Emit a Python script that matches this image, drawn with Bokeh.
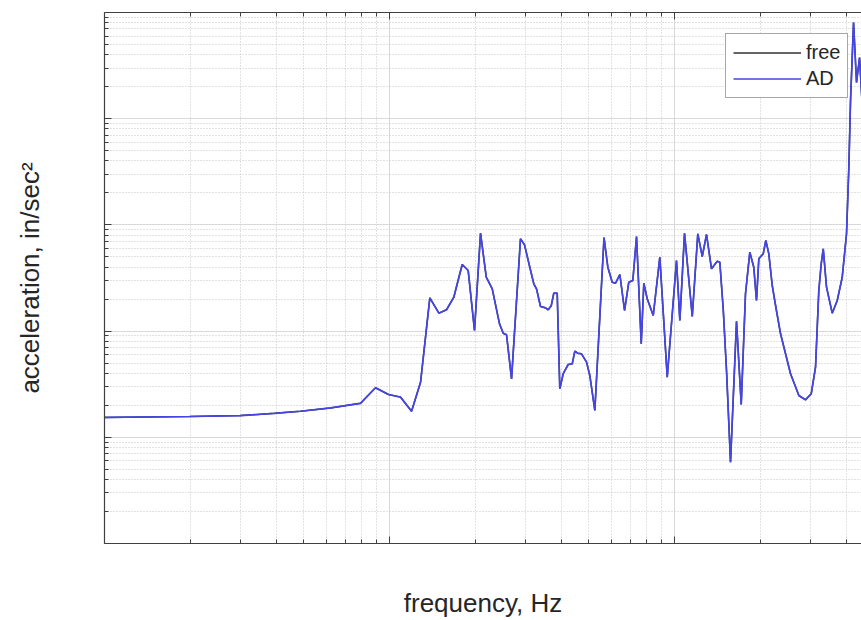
from bokeh.plotting import figure
from bokeh.models import (LogAxis, FixedTicker, CustomJSTickFormatter, Range1d,
                          Legend, LegendItem, ColumnDataSource)
from bokeh.embed import file_html
from bokeh.resources import INLINE

# ---------------- data ----------------
freq_hz = [10, 19.9, 30.0, 39.5, 48.7, 62.1, 79.1, 89.3, 99.2, 109.3, 119.5, 128.5,
           138.5, 149.0, 158.5, 168.1, 179.9, 188.8, 198.7, 208.6, 218.5, 229.3,
           243.2, 250.6, 257.4, 268.0, 288.1, 297.6, 310.6, 320.8, 327.9, 338.7,
           352.7, 360.4, 369.3, 377.1, 387.6, 395.8, 406.9, 423.6, 437.6, 446.9,
           457.8, 471.8, 491.2, 504.4, 525.3, 565.7, 583.4, 604.5, 620.9, 642.9,
           667.8, 691.1, 714.0, 735.7, 764.1, 780.3, 802.0, 842.0, 888.0, 942.8,
           1016, 1044, 1084, 1154, 1207, 1251, 1295, 1348, 1412, 1442, 1483, 1523,
           1572, 1650, 1714, 1774, 1837, 1897, 1939, 1976, 2047, 2091, 2142, 2202,
           2262, 2355, 2553, 2730, 2881, 3017, 3124, 3208, 3271, 3325, 3414, 3575,
           3723, 3876, 4013, 4089, 4145, 4247, 4351, 4458, 4567]

ad_accel = [0.154, 0.157, 0.160, 0.168, 0.176, 0.189, 0.209, 0.293, 0.253, 0.239,
            0.176, 0.330, 2.058, 1.475, 1.587, 2.085, 4.238, 3.720, 1.013, 8.352,
            3.217, 2.502, 1.171, 0.955, 0.923, 0.355, 7.398, 6.496, 3.997, 2.788,
            2.502, 1.705, 1.657, 1.587, 1.731, 2.275, 2.275, 0.286, 0.397, 0.485,
            0.492, 0.647, 0.619, 0.611, 0.510, 0.382, 0.179, 7.610, 3.997, 2.887,
            2.824, 3.411, 1.563, 2.887, 2.995, 7.776, 0.759, 2.824, 2.014, 1.403,
            4.965, 0.368, 4.622, 1.259, 8.352, 1.373, 8.245, 5.040, 8.121, 3.860,
            4.552, 4.455, 1.563, 0.410, 0.0583, 1.239, 0.204, 2.245, 5.532, 3.997,
            1.941, 4.795, 5.344, 7.130, 5.344, 2.688, 1.742, 0.943, 0.397, 0.2475,
            0.2255, 0.257, 0.457, 2.412, 4.303, 5.956, 2.591, 1.475, 1.941, 3.217,
            8.245, 34.9, 148.4, 804.8, 219.3, 377.0, 119.5]

series_names = ["free", "AD"]
x_title = "frequency, Hz"
y_title = "acceleration, in/sec\u00b2"

x_major_ticks = [10, 100, 1000]
x_minor_ticks = [20, 30, 40, 50, 60, 70, 80, 90,
                 200, 300, 400, 500, 600, 700, 800, 900,
                 2000, 3000, 4000]
y_major_ticks = [0.01, 0.1, 1, 10, 100, 1000]
y_minor_ticks = [0.02, 0.03, 0.04, 0.05, 0.06, 0.07, 0.08, 0.09,
                 0.2, 0.3, 0.4, 0.5, 0.6, 0.7, 0.8, 0.9,
                 2, 3, 4, 5, 6, 7, 8, 9,
                 20, 30, 40, 50, 60, 70, 80, 90,
                 200, 300, 400, 500, 600, 700, 800, 900]

x_start, x_end = 10, 4529
y_start, y_end = 0.01, 1000

FONT = "Liberation Sans"
AXIS_COLOR = "#404040"
TEXT_COLOR = "#262626"

# ---------------- figure ----------------
p = figure(width=861, height=620, x_axis_type="log", y_axis_type="log",
           x_range=Range1d(x_start, x_end), y_range=Range1d(y_start, y_end),
           output_backend="svg", toolbar_location=None,
           min_border_left=104, min_border_right=0, min_border_top=12,
           min_border_bottom=77)
p.outline_line_color = None
p.background_fill_color = "white"
p.border_fill_color = "white"

xticker = FixedTicker(ticks=x_major_ticks, minor_ticks=x_minor_ticks)
yticker = FixedTicker(ticks=y_major_ticks, minor_ticks=y_minor_ticks)
blank = CustomJSTickFormatter(code="return ''")


def style_axis(ax, ticker):
    ax.ticker = ticker
    ax.formatter = blank
    ax.axis_line_color = AXIS_COLOR
    ax.axis_line_width = 1.2
    ax.major_tick_line_color = AXIS_COLOR
    ax.minor_tick_line_color = AXIS_COLOR
    ax.major_tick_in = 7
    ax.major_tick_out = 0
    ax.minor_tick_in = 4
    ax.minor_tick_out = 0
    ax.major_label_standoff = 0
    ax.major_label_text_font_size = "1px"
    ax.axis_label_text_font = FONT
    ax.axis_label_text_font_size = "26px"
    ax.axis_label_text_font_style = "normal"
    ax.axis_label_text_color = TEXT_COLOR
    ax.axis_label_text_line_height = 1.0


xax = p.xaxis[0]
yax = p.yaxis[0]
style_axis(xax, xticker)
style_axis(yax, yticker)
xax.axis_label = x_title
xax.axis_label_standoff = 44
yax.axis_label = y_title
yax.axis_label_standoff = 60

top_axis = LogAxis()
style_axis(top_axis, xticker)
top_axis.axis_label = None
p.add_layout(top_axis, "above")

p.xgrid.ticker = xticker
p.ygrid.ticker = yticker
for g in (p.xgrid[0], p.ygrid[0]):
    g.grid_line_color = "#d9d9d9"
    g.grid_line_width = 1
    g.minor_grid_line_color = "#c4c4c4"
    g.minor_grid_line_dash = "1 2"
    g.minor_grid_line_width = 1

# ---------------- lines ----------------
src = ColumnDataSource(dict(f=freq_hz, a=ad_accel))
r_free = p.line("f", "a", source=src, line_color="#303030", line_width=1.5)
r_ad = p.line("f", "a", source=src, line_color="#4545e6", line_width=1.7)

legend = Legend(items=[LegendItem(label=series_names[0], renderers=[r_free]),
                       LegendItem(label=series_names[1], renderers=[r_ad])],
                location=(621, 445))
legend.label_text_font = FONT
legend.label_text_font_size = "20px"
legend.label_text_color = TEXT_COLOR
legend.glyph_width = 68
legend.glyph_height = 23
legend.label_height = 23
legend.label_standoff = 5
legend.spacing = 3
legend.padding = 7
legend.margin = 0
legend.border_line_color = "#505050"
legend.border_line_width = 1.2
legend.background_fill_color = "white"
legend.background_fill_alpha = 1
p.add_layout(legend, "center")

open("out.html", "w").write(file_html(p, INLINE))
